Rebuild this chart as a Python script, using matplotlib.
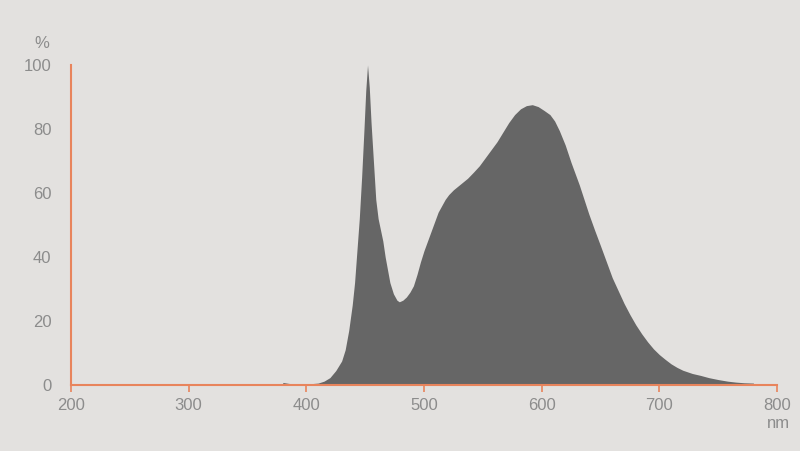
import matplotlib.pyplot as plt

# spectrum (nm, relative %)
wavelength = [380, 385, 390, 400, 410, 415, 420, 425, 430, 433, 436, 439, 441, 443,
              445, 447, 449, 450.5, 452, 453.5, 455, 457, 459, 461, 463, 465, 467,
              469, 471, 474, 477, 479, 482, 485, 488, 491, 494, 497, 500, 503, 506,
              509, 512, 515, 518, 521, 525, 530, 537, 542, 547, 552, 557, 562, 567,
              572, 577, 582, 587, 592, 597, 602, 607, 611, 615, 620, 625, 628, 632,
              636, 640, 645, 650, 655, 660, 665, 670, 675, 680, 685, 690, 695, 700,
              705, 710, 715, 720, 728, 735, 742, 750, 758, 765, 772, 780]
intensity = [0.8, 0.5, 0.3, 0.3, 0.6, 1.2, 2.3, 4.5, 7.5, 11, 17, 25, 32, 42,
             52, 65, 80, 92, 100, 93, 82, 70, 58, 52, 48.5, 45, 40,
             36, 32, 28.5, 26.5, 26, 26.5, 27.5, 29, 31, 34.5, 38.5, 42, 45, 48,
             51, 54, 56, 58, 59.5, 61, 62.5, 64.6, 66.5, 68.5, 71, 73.5, 76, 79,
             82, 84.5, 86.3, 87.3, 87.6, 87, 85.8, 84.5, 82.5, 79.5, 75, 69.5, 66.5, 62.5,
             58, 53.5, 48.4, 43.5, 38.5, 33.5, 29.5, 25.5, 22, 18.8, 16, 13.5, 11.3, 9.5,
             8, 6.6, 5.5, 4.6, 3.6, 3.0, 2.3, 1.7, 1.2, 0.9, 0.7, 0.6]
xticks = [200, 300, 400, 500, 600, 700, 800]
yticks = [0, 20, 40, 60, 80, 100]

bg = '#e3e1df'
axis_col = '#e8845c'
text_col = '#8c8c8c'
fill_col = '#666666'

plt.rcParams['font.family'] = ['Liberation Sans', 'DejaVu Sans']

fig = plt.figure(figsize=(8, 4.51), dpi=100, facecolor=bg)
ax = fig.add_axes([71 / 800, 66 / 451, 706 / 800, 320 / 451])
ax.set_facecolor(bg)

ax.fill_between(wavelength, intensity, 0, color=fill_col, linewidth=0)

ax.set_xlim(200, 800)
ax.set_ylim(0, 100)
ax.set_xticks(xticks)
ax.set_yticks(yticks)

for s in ['top', 'right']:
    ax.spines[s].set_visible(False)
for s in ['left', 'bottom']:
    ax.spines[s].set_color(axis_col)
    ax.spines[s].set_linewidth(1.5)

ax.tick_params(axis='x', colors=axis_col, length=5, width=1.2, direction='out',
               labelcolor=text_col, labelsize=12, pad=4)
ax.tick_params(axis='y', length=0, labelcolor=text_col, labelsize=12, pad=14)

fig.text(42 / 800, 1 - 43 / 451, '%', color=text_col, fontsize=12, ha='center', va='center')
fig.text(778 / 800, 1 - 423 / 451, 'nm', color=text_col, fontsize=12, ha='center', va='center')

plt.savefig('out.png', dpi=100, facecolor=bg)
